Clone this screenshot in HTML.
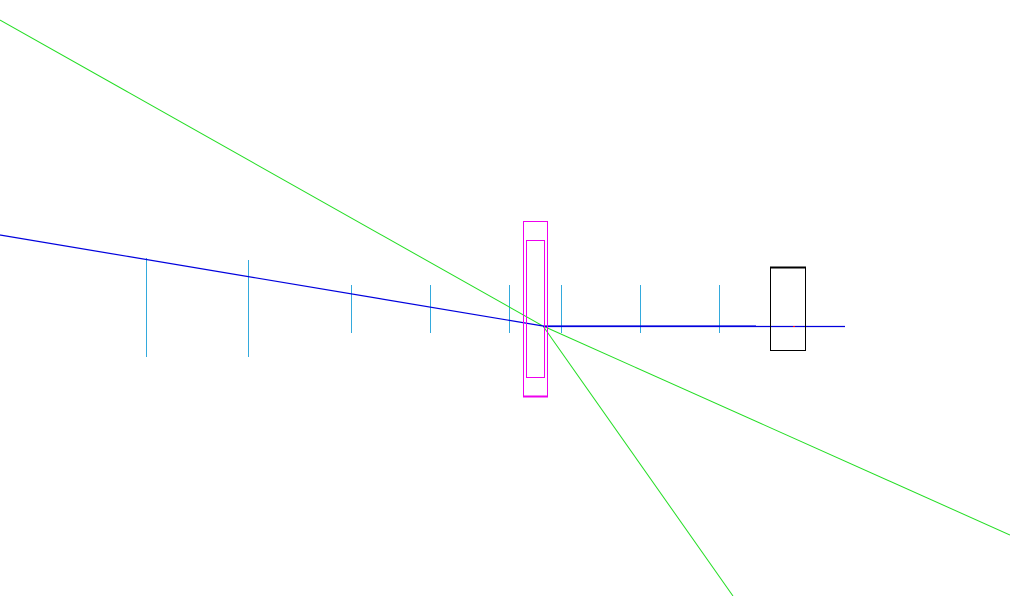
<!DOCTYPE html>
<html><head><meta charset="utf-8"><style>
html,body{margin:0;padding:0;background:#fff;width:1010px;height:596px;overflow:hidden}
svg{display:block}
</style></head><body>
<svg id="c" width="1010" height="596">
<g id="ticks"></g>
<polyline points="0,20 543,326 1010,535" fill="none" stroke="#22dd22" stroke-width="1"/>
<line x1="543" y1="326" x2="733" y2="596" stroke="#22dd22" stroke-width="1"/>
<polyline points="0,235 543,326 756,326" fill="none" stroke="#0000dd" stroke-width="1.2"/>
<line x1="543" y1="326.5" x2="845" y2="326.5" stroke="#0000dd" stroke-width="1.2"/>
<rect x="523.5" y="221.5" width="24" height="175" fill="none" stroke="#ee00ee" stroke-width="1" shape-rendering="crispEdges"/>
<line x1="523" y1="396.5" x2="548" y2="396.5" stroke="#ee00ee" stroke-width="2"/>
<rect x="526.5" y="240.5" width="18" height="137" fill="none" stroke="#ee00ee" stroke-width="1" shape-rendering="crispEdges"/>
<rect x="770.5" y="267.5" width="35" height="83" fill="none" stroke="#000" stroke-width="1"/>
<line x1="770" y1="267.5" x2="806" y2="267.5" stroke="#000" stroke-width="2"/>
<rect x="793" y="326" width="2" height="1" fill="red"/>
</svg>
<script>
const tickX=[146,248,351,430,509,561,640,719];
const tickTop=[258,260,285,285,285,285,285,285];
const tickBottom=[357,357,333,333,333,333,333,333];
const g=document.getElementById('ticks');
tickX.forEach((x,i)=>{
 const l=document.createElementNS('http://www.w3.org/2000/svg','line');
 l.setAttribute('x1',x+0.5);l.setAttribute('x2',x+0.5);
 l.setAttribute('y1',tickTop[i]);l.setAttribute('y2',tickBottom[i]);
 l.setAttribute('stroke','#33aadd');l.setAttribute('stroke-width','1');
 
 
 g.appendChild(l);
});
</script>
</body></html>
